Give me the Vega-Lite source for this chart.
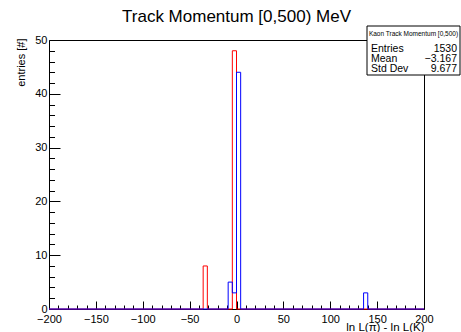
{
  "$schema": "https://vega.github.io/schema/vega-lite/v6.json",
  "width": 375,
  "height": 269,
  "autosize": {"type": "none"},
  "padding": {"left": 49, "top": 40, "right": 37, "bottom": 23},
  "background": "white",
  "config": {
    "view": {"stroke": "black", "strokeWidth": 1},
    "font": "Liberation Sans",
    "axis": {
      "domain": false,
      "grid": false,
      "tickColor": "black",
      "tickWidth": 1,
      "labelFont": "Liberation Sans",
      "labelFontSize": 11,
      "labelColor": "black",
      "labelOverlap": false,
      "labelBound": false,
      "labelFlush": false,
      "titleFont": "Liberation Sans",
      "titleFontWeight": "normal",
      "titleColor": "black"
    }
  },
  "title": {
    "text": "Track Momentum [0,500) MeV",
    "fontSize": 17,
    "fontWeight": "normal",
    "font": "Liberation Sans",
    "color": "black",
    "anchor": "middle",
    "offset": 0
  },
  "datasets": {
    "hist": [
      {"series": "red", "edge": -200, "count": 0},
      {"series": "red", "edge": -35.56, "count": 8},
      {"series": "red", "edge": -31.11, "count": 0},
      {"series": "red", "edge": -4.44, "count": 48},
      {"series": "red", "edge": 0, "count": 0},
      {"series": "red", "edge": 200, "count": 0},
      {"series": "blue", "edge": -200, "count": 0},
      {"series": "blue", "edge": -8.89, "count": 5},
      {"series": "blue", "edge": -4.44, "count": 3},
      {"series": "blue", "edge": 0, "count": 44},
      {"series": "blue", "edge": 4.44, "count": 0},
      {"series": "blue", "edge": 135.56, "count": 3},
      {"series": "blue", "edge": 140, "count": 0},
      {"series": "blue", "edge": 200, "count": 0}
    ]
  },
  "resolve": {"axis": {"x": "independent", "y": "independent"}},
  "layer": [
    {
      "data": {"name": "hist"},
      "transform": [{"filter": "datum.series === 'red'"}],
      "mark": {"type": "line", "interpolate": "step-after", "stroke": "#ff0000", "strokeWidth": 1},
      "encoding": {
        "x": {"field": "edge", "type": "quantitative", "scale": {"domain": [-200, 200], "nice": false, "zero": false},
          "axis": {"orient": "bottom", "values": [-190,-180,-170,-160,-140,-130,-120,-110,-90,-80,-70,-60,-40,-30,-20,-10,10,20,30,40,60,70,80,90,110,120,130,140,160,170,180,190], "labels": false, "tickSize": -4, "title": null}},
        "y": {"field": "count", "type": "quantitative", "scale": {"domain": [0, 50], "nice": false},
          "axis": {"orient": "left", "values": [2,4,6,8,12,14,16,18,22,24,26,28,32,34,36,38,42,44,46,48], "labels": false, "tickSize": -5.5, "title": null}}
      }
    },
    {
      "data": {"name": "hist"},
      "transform": [{"filter": "datum.series === 'blue'"}],
      "mark": {"type": "line", "interpolate": "step-after", "stroke": "#0000ff", "strokeWidth": 1},
      "encoding": {
        "x": {"field": "edge", "type": "quantitative", "scale": {"domain": [-200, 200], "nice": false, "zero": false},
          "axis": {"orient": "bottom", "values": [-200,-150,-100,-50,0,50,100,150,200], "format": "d", "tickSize": -8, "labelPadding": 12,
            "title": "ln L(π) - ln L(K)", "titleFontSize": 11.5, "titleX": 375, "titleY": 21, "titleAlign": "right", "titleAnchor": "end", "titleBaseline": "alphabetic"}},
        "y": {"field": "count", "type": "quantitative", "scale": {"domain": [0, 50], "nice": false},
          "axis": {"orient": "left", "values": [0,10,20,30,40,50], "format": "d", "tickSize": -11, "labelPadding": 13,
            "title": "entries [#]", "titleFontSize": 11, "titleX": -28, "titleY": -2, "titleAngle": 270, "titleAlign": "right", "titleAnchor": "end", "titleBaseline": "middle"}}
      }
    },
    {
      "data": {"values": [{}]},
      "mark": {"type": "rect", "fill": "white", "stroke": "black", "strokeWidth": 1, "x": 318, "x2": 411, "y": -14, "y2": 35},
      "encoding": {}
    },
    {
      "data": {"values": [{}]},
      "mark": {"type": "rule", "stroke": "black", "strokeWidth": 1, "x": 318, "x2": 411, "y": -1, "y2": -1},
      "encoding": {}
    },
    {
      "data": {"values": [{}]},
      "mark": {"type": "text", "text": "Kaon Track Momentum [0,500)", "fontSize": 6.5, "font": "Liberation Sans", "align": "center", "baseline": "middle", "x": 364.5, "y": -6.5, "color": "black"},
      "encoding": {}
    },
    {
      "data": {"values": [{}]},
      "mark": {"type": "text", "text": "Entries", "fontSize": 10.5, "font": "Liberation Sans", "align": "left", "baseline": "middle", "x": 322, "y": 9, "color": "black"},
      "encoding": {}
    },
    {
      "data": {"values": [{}]},
      "mark": {"type": "text", "text": "Mean", "fontSize": 10.5, "font": "Liberation Sans", "align": "left", "baseline": "middle", "x": 322, "y": 19.3, "color": "black"},
      "encoding": {}
    },
    {
      "data": {"values": [{}]},
      "mark": {"type": "text", "text": "Std Dev", "fontSize": 10.5, "font": "Liberation Sans", "align": "left", "baseline": "middle", "x": 322, "y": 29.3, "color": "black"},
      "encoding": {}
    },
    {
      "data": {"values": [{}]},
      "mark": {"type": "text", "text": "1530", "fontSize": 10.5, "font": "Liberation Sans", "align": "right", "baseline": "middle", "x": 408, "y": 9, "color": "black"},
      "encoding": {}
    },
    {
      "data": {"values": [{}]},
      "mark": {"type": "text", "text": "−3.167", "fontSize": 10.5, "font": "Liberation Sans", "align": "right", "baseline": "middle", "x": 408, "y": 19.3, "color": "black"},
      "encoding": {}
    },
    {
      "data": {"values": [{}]},
      "mark": {"type": "text", "text": "9.677", "fontSize": 10.5, "font": "Liberation Sans", "align": "right", "baseline": "middle", "x": 408, "y": 29.3, "color": "black"},
      "encoding": {}
    }
  ]
}
